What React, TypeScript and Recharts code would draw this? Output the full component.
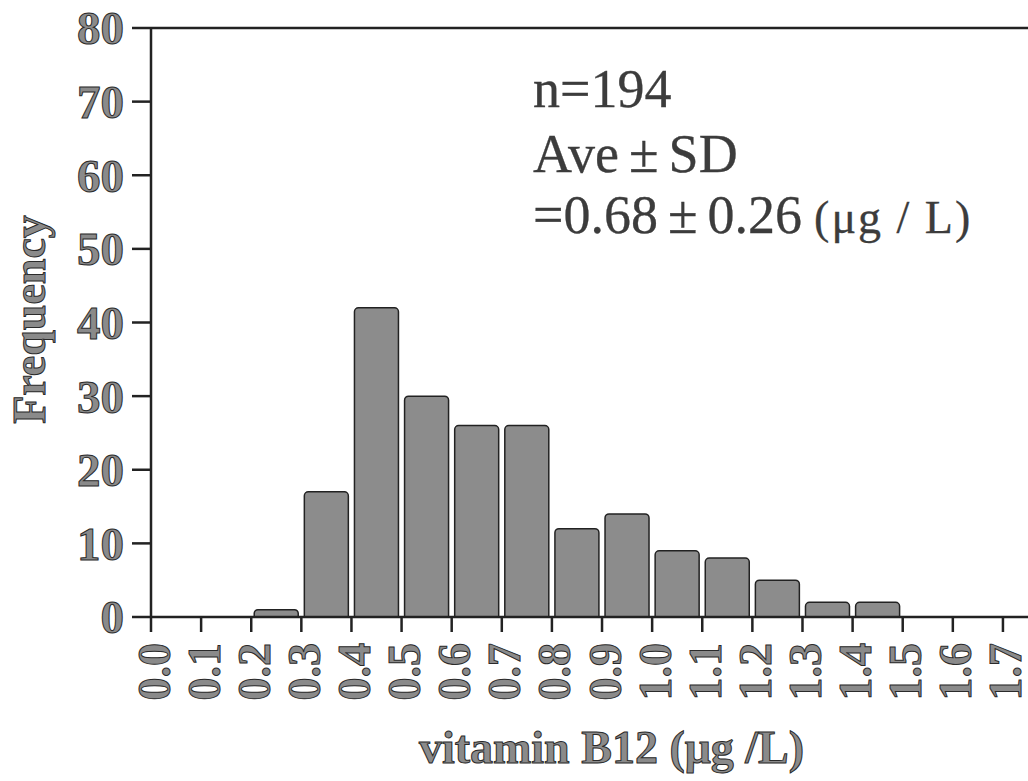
import React from "react";
import { BarChart, Bar, XAxis, YAxis, ReferenceLine, Customized } from "recharts";

// bin lower edges (µg/L) and their frequencies
const binStarts = [0.0, 0.1, 0.2, 0.3, 0.4, 0.5, 0.6, 0.7, 0.8, 0.9, 1.0, 1.1, 1.2, 1.3, 1.4, 1.5, 1.6];
const counts = [0, 0, 1, 17, 42, 30, 26, 26, 12, 14, 9, 8, 5, 2, 2, 0, 0];
const binWidth = 0.1;
const xTicks = [0.0, 0.1, 0.2, 0.3, 0.4, 0.5, 0.6, 0.7, 0.8, 0.9, 1.0, 1.1, 1.2, 1.3, 1.4, 1.5, 1.6, 1.7];
const yTicks = [0, 10, 20, 30, 40, 50, 60, 70, 80];
const statN = "n=194";
const statLabel = ["Ave", "±", "SD"];
const statValue = ["=0.68", "±", "0.26"];
const statUnit = "(μg / L)";
const xTitle = "vitamin B12 (μg /L)";
const yTitle = "Frequency";

const data = binStarts.map((s, i) => ({ x: s + binWidth / 2, count: counts[i] }));

const SERIF = "'Liberation Serif', 'Times New Roman', serif";
const labelFill = "#8a8a8a";
const labelStroke = "#2a2a2a";

const XTick = (props: any) => {
  const { x, y, payload } = props;
  return (
    <g transform={`translate(${x},${y}) rotate(-90)`}>
      <text
        x={0}
        y={3}
        textAnchor="end"
        dominantBaseline="central"
        fontFamily={SERIF}
        fontWeight="bold"
        fontSize={46}
        fill={labelFill}
        stroke={labelStroke}
        strokeWidth={1}
      >
        {Number(payload.value).toFixed(1)}
      </text>
    </g>
  );
};

const YTick = (props: any) => {
  const { x, y, payload } = props;
  return (
    <text
      x={x}
      y={y}
      dy="0.35em"
      textAnchor="end"
      fontFamily={SERIF}
      fontWeight="bold"
      fontSize={47}
      fill={labelFill}
      stroke={labelStroke}
      strokeWidth={1}
    >
      {payload.value}
    </text>
  );
};

const XTitle = (props: any) => {
  const vb = props.viewBox;
  return (
    <text
      x={vb.x + vb.width / 2 + 22}
      y={vb.y + 146}
      textAnchor="middle"
      fontFamily={SERIF}
      fontWeight="bold"
      fontSize={46}
      fill={labelFill}
      stroke={labelStroke}
      strokeWidth={1}
    >
      {xTitle}
    </text>
  );
};

const YTitle = (props: any) => {
  const vb = props.viewBox;
  const cx = 45;
  const cy = vb.y + vb.height / 2 - 3;
  return (
    <text
      x={cx}
      y={cy}
      transform={`rotate(-90, ${cx}, ${cy})`}
      textAnchor="middle"
      fontFamily={SERIF}
      fontWeight="bold"
      fontSize={46}
      fill={labelFill}
      stroke={labelStroke}
      strokeWidth={1}
    >
      {yTitle}
    </text>
  );
};

const Stats = () => {
  const common = {
    fontFamily: SERIF,
    fill: "#3c3c3c",
    stroke: "#3c3c3c",
    strokeWidth: 0.3,
  } as any;
  return (
    <g>
      <text x={533} y={107} fontSize={54} {...common}>
        {statN}
      </text>
      <text x={533} y={172} fontSize={54} {...common}>
        <tspan>{statLabel[0]}</tspan>
        <tspan dx={10}>{statLabel[1]}</tspan>
        <tspan dx={10}>{statLabel[2]}</tspan>
      </text>
      <text x={533} y={233} fontSize={54} {...common}>
        <tspan>{statValue[0]}</tspan>
        <tspan dx={10}>{statValue[1]}</tspan>
        <tspan dx={10}>{statValue[2]}</tspan>
        <tspan dx={12} fontSize={46} letterSpacing={2}>
          {statUnit}
        </tspan>
      </text>
    </g>
  );
};

export default function App() {
  return (
    <div style={{ position: "absolute", left: 0, top: 0, width: 1028, height: 781, background: "#fff" }}>
      <BarChart width={1028} height={781} data={data} margin={{ top: 28, right: 0, bottom: 0, left: 0 }}>
        <XAxis
          dataKey="x"
          type="number"
          domain={[0, 1.75]}
          ticks={xTicks}
          interval={0}
          height={164}
          tickSize={15}
          tickMargin={11}
          tick={<XTick />}
          axisLine={{ stroke: "#222", strokeWidth: 2.5 }}
          tickLine={{ stroke: "#222", strokeWidth: 2.5 }}
          allowDataOverflow
          label={<XTitle />}
        />
        <YAxis
          type="number"
          domain={[0, 80]}
          ticks={yTicks}
          interval={0}
          width={151}
          tickSize={19}
          tickMargin={8}
          tick={<YTick />}
          axisLine={{ stroke: "#222", strokeWidth: 2.5 }}
          tickLine={{ stroke: "#222", strokeWidth: 2.5 }}
          label={<YTitle />}
        />
        <ReferenceLine y={80} stroke="#222" strokeWidth={2.5} ifOverflow="visible" />
        <Bar
          dataKey="count"
          barSize={44}
          fill="#8c8c8c"
          stroke="#222"
          strokeWidth={1.5}
          radius={[4, 4, 0, 0]}
          isAnimationActive={false}
        />
        <Customized component={Stats} />
      </BarChart>
    </div>
  );
}
